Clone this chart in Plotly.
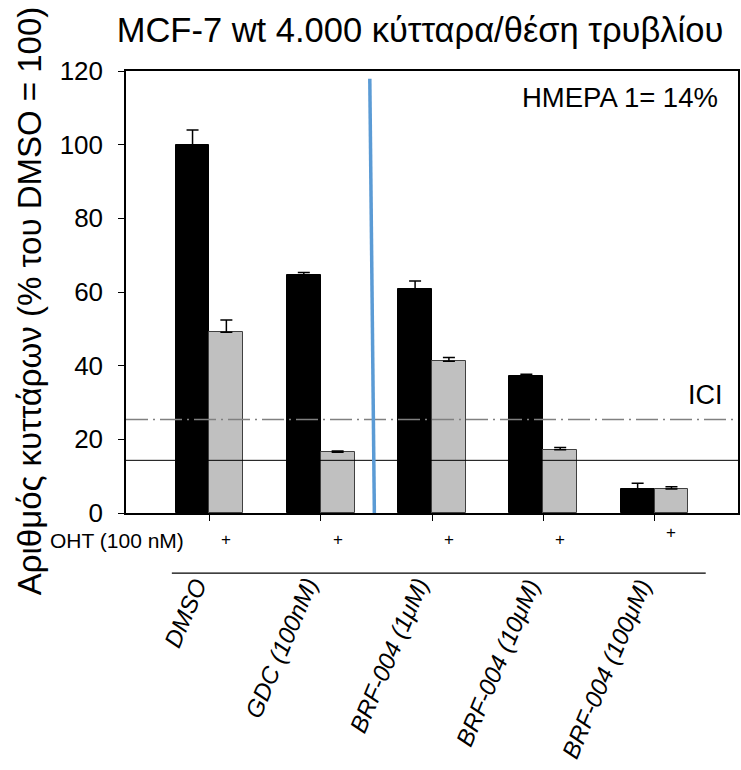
import plotly.graph_objects as go

# ---- data ----
categories = ["DMSO", "GDC (100nM)", "BRF-004 (1μM)", "BRF-004 (10μM)", "BRF-004 (100μM)"]
no_oht = [100.0, 64.5, 60.8, 37.2, 6.6]
no_oht_err = [4.0, 0.8, 2.2, 0.5, 1.5]
with_oht = [49.1, 16.5, 41.2, 17.2, 6.5]
with_oht_err = [3.3, 0.3, 1.0, 0.6, 0.6]
ici_level = 25.4
day1_level = 14.3
y_ticks = [0, 20, 40, 60, 80, 100, 120]
divider_x = [1.441, 1.482]
divider_y = [117.9, 0.0]

FONT = "Liberation Sans, Arial, sans-serif"
bar_w = 0.304
idx = list(range(len(categories)))

fig = go.Figure()
fig.add_trace(go.Bar(
    x=[i - bar_w / 2 for i in idx], y=no_oht, width=bar_w,
    marker=dict(color="#000000", line=dict(color="#000000", width=1)),
    error_y=dict(type="data", array=no_oht_err, arrayminus=[0] * 5, symmetric=False,
                 color="#000000", thickness=1.5, width=6),
    showlegend=False))
fig.add_trace(go.Bar(
    x=[i + bar_w / 2 for i in idx], y=with_oht, width=bar_w,
    marker=dict(color="#c0c0c0", line=dict(color="#404040", width=1)),
    error_y=dict(type="data", array=with_oht_err, arrayminus=[0] * 5, symmetric=False,
                 color="#000000", thickness=1.5, width=6),
    showlegend=False))

# reference lines
fig.add_shape(type="line", xref="paper", yref="y", x0=0, x1=1, y0=ici_level, y1=ici_level,
              line=dict(color="#808080", width=1.5, dash="22px,5px,2px,5px"))
fig.add_shape(type="line", xref="paper", yref="y", x0=0, x1=1, y0=day1_level, y1=day1_level,
              line=dict(color="#000000", width=1))
# blue divider
fig.add_shape(type="line", xref="x", yref="y", x0=divider_x[0], x1=divider_x[1],
              y0=divider_y[0], y1=divider_y[1], line=dict(color="#5b9bd5", width=3.5))
# line below OHT row
fig.add_shape(type="line", xref="x", yref="paper", x0=-0.338, x1=4.46, y0=-0.136, y1=-0.136,
              line=dict(color="#000000", width=1.2))

ann = []
ann.append(dict(text="HMEPA 1= 14%", xref="paper", yref="paper", x=(722 - 126) / 614,
                y=(513 - 97) / 442, xanchor="right", yanchor="middle", showarrow=False,
                font=dict(size=27.5, color="#000", family=FONT)))
ann.append(dict(text="ICI", xref="paper", yref="paper", x=(707 - 126) / 614,
                y=(513 - 395) / 442, xanchor="center", yanchor="middle", showarrow=False,
                font=dict(size=27, color="#000", family=FONT)))
ann.append(dict(text="OHT (100 nM)", xref="paper", yref="paper", x=(186 - 126) / 614,
                y=(513 - 540) / 442, xanchor="right", yanchor="middle", showarrow=False,
                font=dict(size=21, color="#000", family=FONT)))
for i in idx:
    yy = 539 if i < 4 else 532
    ann.append(dict(text="+", xref="x", yref="paper", x=i + bar_w / 2,
                    y=(513 - yy) / 442, xanchor="center", yanchor="middle", showarrow=False,
                    font=dict(size=17, color="#000", family=FONT)))
for i, c in enumerate(categories):
    ann.append(dict(text="<i>" + c + "</i>", xref="x", yref="paper", x=i + 0.04,
                    y=(513 - 572) / 442, xanchor="right", yanchor="top", showarrow=False,
                    textangle=-67, font=dict(size=24, color="#000", family=FONT)))
ann.append(dict(text="Αριθμός κυττάρων (% του DMSO = 100)", xref="paper", yref="paper",
                x=(29 - 126) / 614, y=(513 - 301) / 442, xanchor="center", yanchor="middle",
                textangle=-90, showarrow=False, font=dict(size=33, color="#000", family=FONT)))

fig.update_layout(
    width=741, height=770,
    margin=dict(l=126, r=1, t=71, b=257),
    paper_bgcolor="white", plot_bgcolor="white",
    title=dict(text="MCF-7 wt 4.000 κύτταρα/θέση τρυβλίου", x=420 / 741, xanchor="center",
               y=1 - 30 / 770, yanchor="middle", yref="container",
               font=dict(size=34.5, color="#000", family=FONT)),
    font=dict(family=FONT, color="#000"),
    annotations=ann,
    bargap=0,
)
fig.update_xaxes(range=[-0.75, 4.75], tickvals=idx, showticklabels=False, ticks="outside",
                 ticklen=6, tickcolor="#000", showline=True, linecolor="#000", linewidth=1.5,
                 mirror=True, showgrid=False, zeroline=False)
fig.update_yaxes(range=[0, 120], tickvals=y_ticks, ticks="outside", ticklen=6, tickcolor="#000",
                 showline=True, linecolor="#000", linewidth=1.5, mirror=True, showgrid=False,
                 zeroline=False, ticklabelstandoff=10,
                 tickfont=dict(size=26, color="#000", family=FONT))

fig.write_html("out.html")
